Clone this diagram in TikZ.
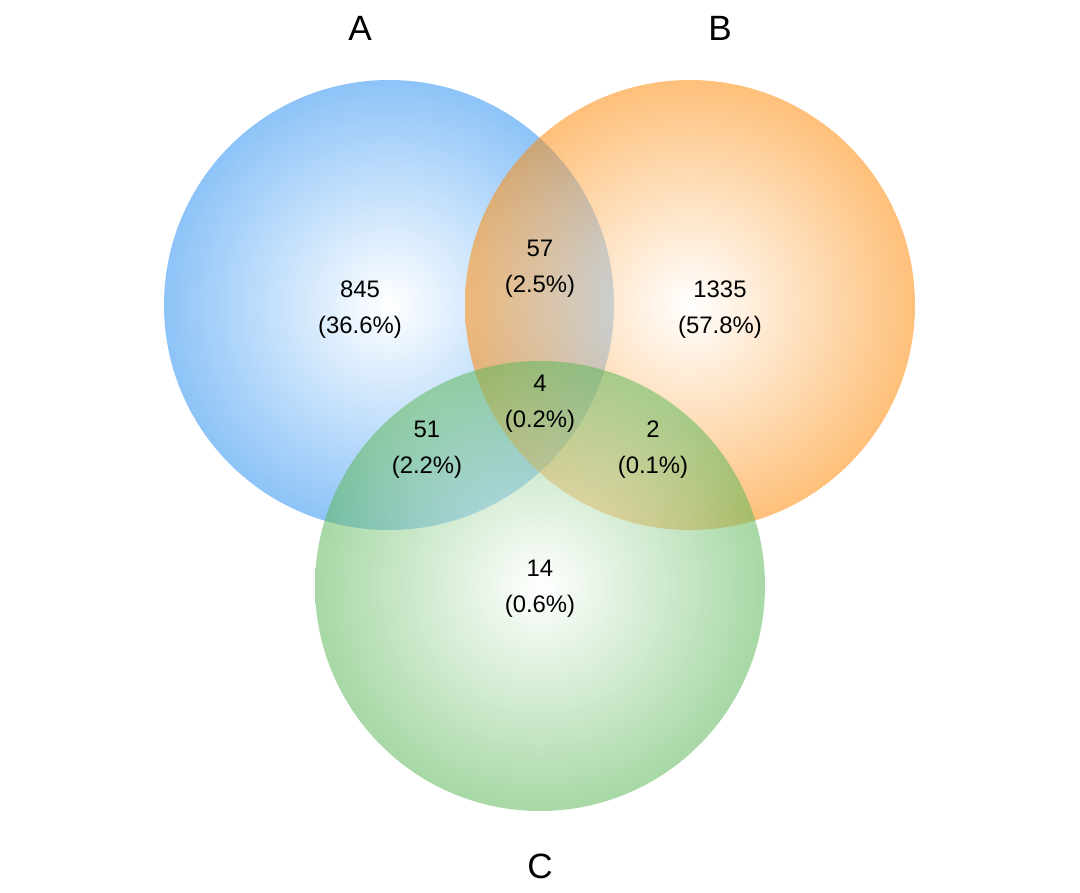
\documentclass[tikz,border=0pt]{standalone}
\usepackage{fontspec}
\setmainfont{Liberation Sans}
\usepackage{tikz}
\usetikzlibrary{positioning}

\definecolor{setA}{RGB}{47,146,242}
\definecolor{setB}{RGB}{253,140,13}
\definecolor{setC}{RGB}{95,184,91}
\pgfdeclareradialshading{shadeA}{\pgfpoint{0bp}{0bp}}{color(0bp)=(white); color(25bp)=(setA); color(50bp)=(setA)}
\pgfdeclareradialshading{shadeB}{\pgfpoint{0bp}{0bp}}{color(0bp)=(white); color(25bp)=(setB); color(50bp)=(setB)}
\pgfdeclareradialshading{shadeC}{\pgfpoint{0bp}{0bp}}{color(0bp)=(white); color(25bp)=(setC); color(50bp)=(setC)}

\begin{document}
\begin{tikzpicture}[
  x=0.02cm, y=-0.02cm,
  setcircle/.style={fill opacity=0.55},
  count/.style={align=center,font=\fontsize{13.6}{20.5}\selectfont,inner sep=0pt},
  setname/.style={font=\fontsize{20}{24}\selectfont,inner sep=0pt}
]
\useasboundingbox (0,0) rectangle (1080,893);

% the three sets
\shade[setcircle, shading=shadeA] (389,305) circle[radius=225];
\shade[setcircle, shading=shadeB] (690,305) circle[radius=225];
\shade[setcircle, shading=shadeC] (540,586) circle[radius=225];

% set names
\node[setname] (nameA) at (360,28) {A};
\node[setname] (nameB) at (720,28) {B};
\node[setname] (nameC) at (540,866) {C};

% counts
\node[count] (onlyA) at (360,310) {845\\(36.6\%)};
\node[count] (onlyB) at (720,310) {1335\\(57.8\%)};
\node[count] (AB) at (540,269) {57\\(2.5\%)};
\node[count] (ABC) at (540,404) {4\\(0.2\%)};
\node[count] (AC) at (427,450) {51\\(2.2\%)};
\node[count] (BC) at (653,450) {2\\(0.1\%)};
\node[count] (onlyC) at (540,589) {14\\(0.6\%)};

\end{tikzpicture}
\end{document}
